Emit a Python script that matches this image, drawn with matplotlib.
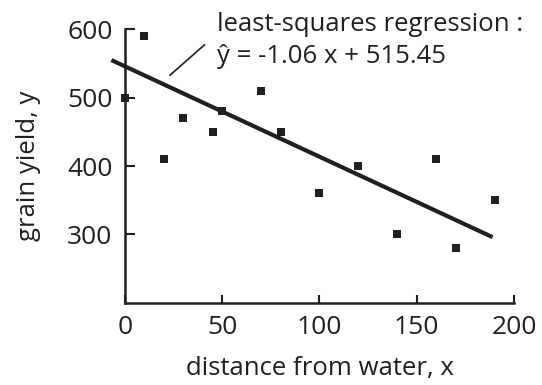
import matplotlib
matplotlib.use("Agg")
import matplotlib.pyplot as plt

# data
dist_x = [0, 10, 20, 30, 45, 50, 70, 80, 100, 120, 140, 160, 170, 190]
yield_y = [500, 590, 410, 470, 450, 480, 510, 450, 360, 400, 300, 410, 280, 350]
line_x = [-7, 189]
line_y = [555, 296]
x_ticks = [0, 50, 100, 150, 200]
y_ticks = [300, 400, 500, 600]

ink = "#231f20"
plt.rcParams["font.family"] = ["Open Sans", "DejaVu Sans"]

fig = plt.figure(figsize=(5.42, 3.85), dpi=100)
ax = fig.add_axes([0.2306, 0.2135, 0.7177, 0.7105])
ax.set_xlim(0, 200)
ax.set_ylim(200, 600)

ax.scatter(dist_x, yield_y, marker="s", s=38, color=ink, zorder=3, clip_on=False, linewidths=0)
ax.plot(line_x, line_y, color=ink, lw=3, clip_on=False, solid_capstyle="butt")

for s in ["top", "right"]:
    ax.spines[s].set_visible(False)
for s in ["left", "bottom"]:
    ax.spines[s].set_linewidth(1.8)
    ax.spines[s].set_color(ink)

ax.set_xticks(x_ticks)
ax.set_yticks(y_ticks)
ax.tick_params(axis="both", direction="in", colors=ink, labelsize=19, width=1.5)
ax.tick_params(axis="y", length=7, pad=9)
ax.tick_params(axis="x", length=6, pad=9)

ax.set_xlabel("distance from water, x", fontsize=18.5, color=ink, labelpad=11)
ax.set_ylabel("grain yield, y", fontsize=18.5, color=ink, labelpad=19)

# annotation
ax.annotate("", xy=(22, 530), xytext=(42, 580), xycoords="data", textcoords="data",
            arrowprops=dict(arrowstyle="-", color=ink, lw=1.2), annotation_clip=False)
fig.text(0.40, 0.97, "least-squares regression :", fontsize=18.5, color=ink, va="top", ha="left")
fig.text(0.40, 0.885, "\u0177 = -1.06 x + 515.45", fontsize=18.5, color=ink, va="top", ha="left")

fig.savefig("out.png", dpi=100)
